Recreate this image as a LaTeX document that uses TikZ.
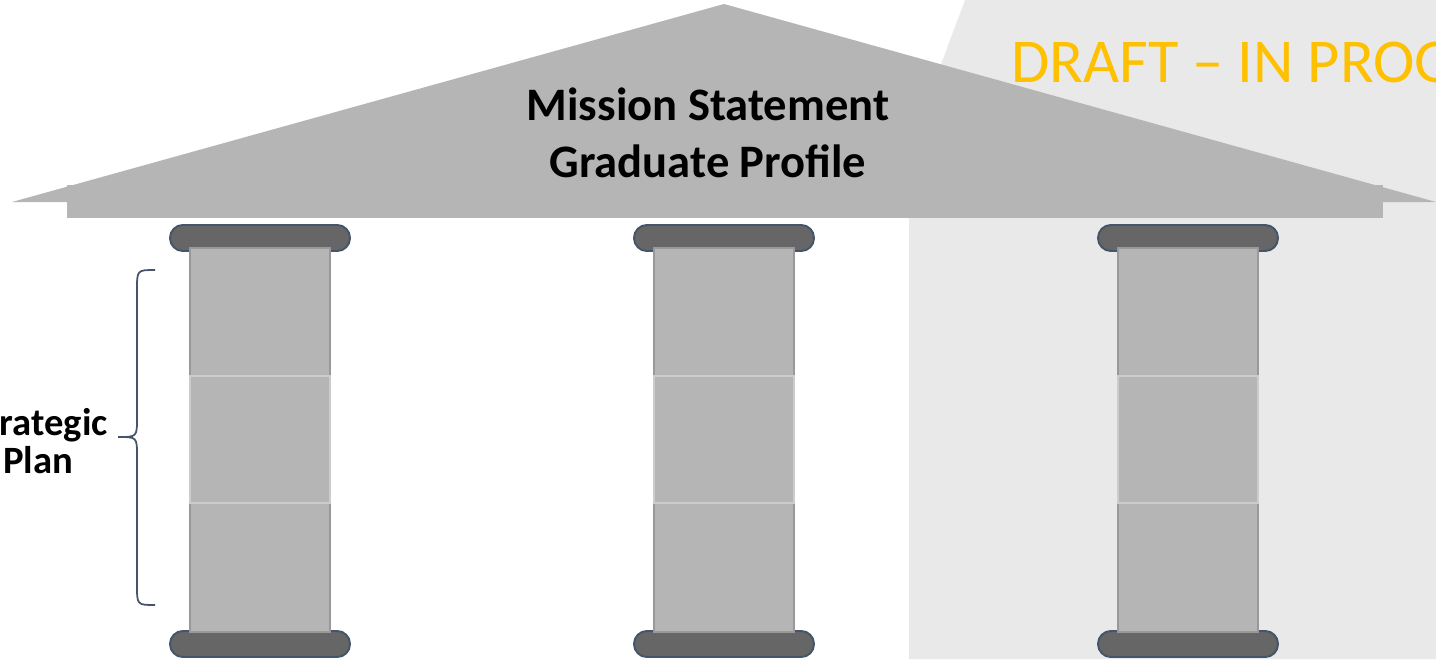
\documentclass[tikz,border=0pt]{standalone}
\usepackage{fontspec}
\setmainfont{Carlito}
\usetikzlibrary{positioning}
\definecolor{roofgray}{HTML}{B5B5B5}
\definecolor{capgray}{HTML}{666666}
\definecolor{capline}{HTML}{44546A}
\definecolor{bggray}{HTML}{E9E9E9}
\definecolor{draftyellow}{HTML}{FFC000}
\tikzset{
	capital/.style={fill=capgray,draw=capline,line width=1.1pt,rounded corners=7.3pt},
	shaft/.style={fill=roofgray,draw=black!40,line width=0.9pt},
	midshaft/.style={fill=roofgray,draw=black!20,line width=0.9pt},
	headline/.style={font=\bfseries\fontsize{26.5}{32.5}\selectfont,align=center,text=black}
}
\begin{document}
\begin{tikzpicture}[x=0.02cm,y=-0.02cm]
				\useasboundingbox (0,0) rectangle (1436,659);
				\fill[bggray] (965,0)--(896,185)--(909,218)--(909,659)--(1436,659)--(1436,0)--cycle;
				\fill[roofgray] (12,202)--(724,4)coordinate(A)--(1436,202)--cycle;
				\fill[roofgray] (67,185) rectangle (1383,218);
				\node[headline] (mission) at (708,133) {Mission Statement\\Graduate Profile};
				\node[anchor=base west,text=draftyellow,font=\fontsize{35.5}{40}\selectfont] (draft) at (1005,82) {DRAFT -- IN PROGRESS};
				\foreach \x in {260,724,1188}{
					\draw[capital] (\x-90,225) rectangle (\x+90,251);
					\draw[capital] (\x-90,631) rectangle (\x+90,657);
					\draw[shaft] (\x-70,248) rectangle (\x+70,632);
					\draw[midshaft] (\x-70,376) rectangle (\x+70,503);
				};
				\draw[capline,line width=1pt] (155,270) .. controls (137,270) .. (137,290)--(137,418) .. controls (137,437) .. (118,437) .. controls (137,437) .. (137,456)--(137,585) .. controls (137,605) .. (155,605);
				\node[font=\bfseries\fontsize{22}{22}\selectfont,align=center] (plan) at (38,441) {Strategic\\Plan};
			\end{tikzpicture}
\end{document}
